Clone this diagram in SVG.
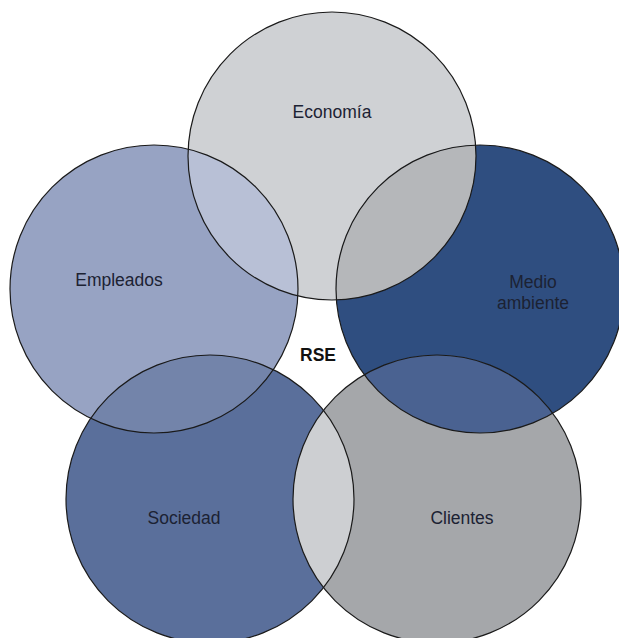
<svg xmlns="http://www.w3.org/2000/svg" width="619" height="638" viewBox="0 0 619 638">
  <style>
    .ring { fill: none; stroke: #1a1a1a; stroke-width: 1.2; }
    .lbl { font-family: "Liberation Sans", Arial, sans-serif; font-size: 17.5px; fill: #1c2233; text-anchor: middle; }
    .rse { font-family: "Liberation Sans", Arial, sans-serif; font-size: 17.5px; font-weight: bold; fill: #111111; text-anchor: middle; }
  </style>
  <defs>
    <circle id="cEco" cx="332" cy="156" r="144"/>
    <circle id="cEmp" cx="154" cy="289" r="144"/>
    <circle id="cMed" cx="480" cy="289" r="144"/>
    <circle id="cSoc" cx="210" cy="499" r="144"/>
    <circle id="cCli" cx="437" cy="499" r="144"/>
    <clipPath id="clipEco"><use href="#cEco"/></clipPath>
    <clipPath id="clipEmp"><use href="#cEmp"/></clipPath>
    <clipPath id="clipMed"><use href="#cMed"/></clipPath>
    <clipPath id="clipSoc"><use href="#cSoc"/></clipPath>
  </defs>
  <rect width="619" height="638" fill="#ffffff"/>

  <g id="fills">
    <use href="#cEco" fill="#cfd1d4"/>
    <use href="#cEmp" fill="#97a3c3"/>
    <use href="#cMed" fill="#2f4e80"/>
    <use href="#cSoc" fill="#5a6f9b"/>
    <use href="#cCli" fill="#a5a7aa"/>
  </g>

  <g id="overlaps">
    <use href="#cEmp" fill="#b8c0d6" clip-path="url(#clipEco)"/>
    <use href="#cMed" fill="#b5b7ba" clip-path="url(#clipEco)"/>
    <use href="#cSoc" fill="#7384aa" clip-path="url(#clipEmp)"/>
    <use href="#cCli" fill="#4a6291" clip-path="url(#clipMed)"/>
    <use href="#cCli" fill="#cdcfd2" clip-path="url(#clipSoc)"/>
  </g>

  <g id="economia">
    <use href="#cEco" class="ring"/>
    <text class="lbl" x="332" y="118">Economía</text>
  </g>
  <g id="empleados">
    <use href="#cEmp" class="ring"/>
    <text class="lbl" x="119" y="286">Empleados</text>
  </g>
  <g id="medio-ambiente">
    <use href="#cMed" class="ring"/>
    <text class="lbl" x="533" y="288">Medio</text>
    <text class="lbl" x="533" y="309">ambiente</text>
  </g>
  <g id="sociedad">
    <use href="#cSoc" class="ring"/>
    <text class="lbl" x="184" y="524">Sociedad</text>
  </g>
  <g id="clientes">
    <use href="#cCli" class="ring"/>
    <text class="lbl" x="462" y="524">Clientes</text>
  </g>
  <g id="rse">
    <text class="rse" x="318" y="361">RSE</text>
  </g>
</svg>
